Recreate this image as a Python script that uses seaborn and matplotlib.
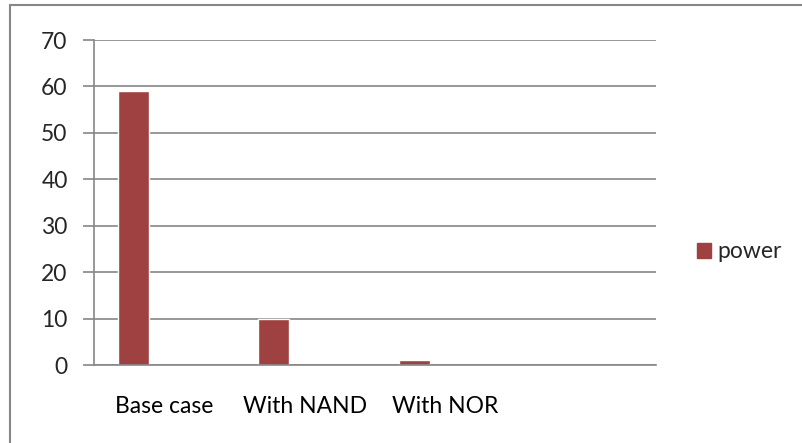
import matplotlib
matplotlib.use("Agg")
import matplotlib.pyplot as plt
import matplotlib.lines as mlines
import matplotlib.patches as mpatches
import seaborn as sns
import pandas as pd
import numpy as np

categories = ["Base case", "With NAND", "With NOR", " "]
power = [59, 10, 1, np.nan]
series = ["power", "blank_2", "blank_3"]
y_ticks = [0, 10, 20, 30, 40, 50, 60, 70]

bar_color = "#9E4140"
grid_color = "#868686"

rows = []
for s in series:
    for c, v in zip(categories, power):
        rows.append({"category": c, "series": s, "value": v if s == "power" else np.nan})
df = pd.DataFrame(rows)

sns.set_theme(style="white")
plt.rcParams["font.family"] = ["Lato", "DejaVu Sans"]

fig = plt.figure(figsize=(8.02, 4.43), dpi=100)
ax = fig.add_axes([94 / 802, 1 - 365 / 443, (656 - 94) / 802, (365 - 40) / 443])

sns.barplot(data=df, x="category", y="value", hue="series", order=categories,
            hue_order=series, palette=[bar_color] * 3, width=0.66, dodge=True,
            saturation=1, errorbar=None, legend=False, ax=ax)

ax.set_xlim(-0.5, len(categories) - 0.5)
ax.set_ylim(0, 70)
ax.set_yticks(y_ticks)
ax.yaxis.grid(True, color=grid_color, linewidth=1.2)
ax.set_axisbelow(True)
ax.set_xlabel("")
ax.set_ylabel("")

for side in ["top", "right"]:
    ax.spines[side].set_visible(False)
for side in ["left", "bottom"]:
    ax.spines[side].set_color(grid_color)
    ax.spines[side].set_linewidth(1.2)

ax.set_xticks(np.arange(len(categories)))
ax.set_xticklabels(categories)
ax.set_xticks(np.arange(len(categories) + 1) - 0.5, minor=True)
ax.tick_params(axis="x", which="major", length=0, pad=22, labelsize=16.5, colors="black")
ax.tick_params(axis="x", which="minor", length=8, width=1.2, color=grid_color, direction="out")
ax.tick_params(axis="y", length=8, width=1.2, color=grid_color, direction="out",
               labelsize=16.5, pad=11, left=True)

handle = mpatches.Patch(color=bar_color, label="power")
fig.legend(handles=[handle], loc="center left", bbox_to_anchor=(697 / 802, 1 - 252 / 443),
           frameon=False, fontsize=16.5, handlelength=0.6, handleheight=0.6,
           handletextpad=0.3, borderaxespad=0, borderpad=0)

# outer chart border (only top and left visible in crop)
fig.add_artist(mlines.Line2D([9.5 / 802, 1], [1 - 5 / 443, 1 - 5 / 443], color=grid_color, linewidth=1.5))
fig.add_artist(mlines.Line2D([9.5 / 802, 9.5 / 802], [0, 1 - 5 / 443], color=grid_color, linewidth=1.5))

fig.savefig("out.png", dpi=100)
